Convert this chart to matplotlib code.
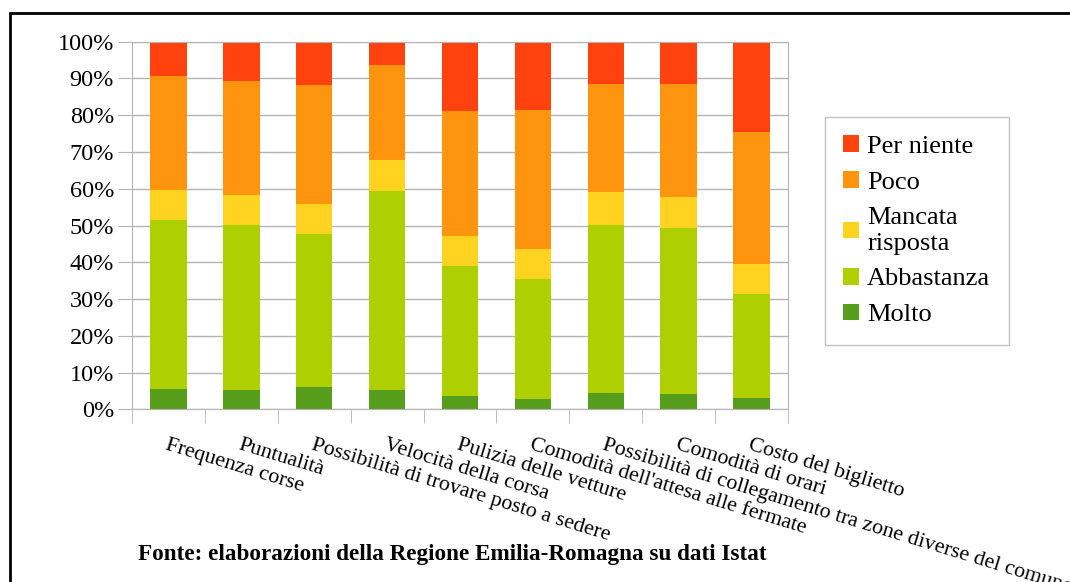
import matplotlib
matplotlib.use('Agg')
import matplotlib.pyplot as plt
from matplotlib.patches import Patch, Rectangle
from matplotlib.ticker import PercentFormatter
import numpy as np

# Dati
categorie = ['Frequenza corse', 'Puntualità', 'Possibilità di trovare posto a sedere',
             'Velocità della corsa', 'Pulizia delle vetture',
             "Comodità dell'attesa alle fermate",
             'Possibilità di collegamento tra zone diverse del comune',
             'Comodità di orari', 'Costo del biglietto']
molto = [5.6, 5.3, 6.1, 5.3, 3.6, 2.8, 4.4, 4.2, 3.1]
abbastanza = [45.9, 44.8, 41.5, 54.1, 35.4, 32.6, 45.7, 45.1, 28.3]
mancata = [8.2, 8.2, 8.2, 8.4, 8.1, 8.2, 9.0, 8.5, 8.1]
poco = [31.0, 31.0, 32.4, 25.9, 34.0, 37.8, 29.5, 30.7, 35.9]
per_niente = [9.3, 10.7, 11.8, 6.3, 18.9, 18.6, 11.4, 11.5, 24.6]

serie = [('Molto', molto, '#579d1c'),
         ('Abbastanza', abbastanza, '#aecf00'),
         ('Mancata\nrisposta', mancata, '#ffd320'),
         ('Poco', poco, '#ff950e'),
         ('Per niente', per_niente, '#ff420e')]

plt.rcParams['font.family'] = ['Liberation Serif', 'DejaVu Serif']

W, H = 1070, 582
fig = plt.figure(figsize=(W / 100, H / 100), dpi=100)
ax = fig.add_axes([132 / W, 1 - 409.3 / H, (788 - 132) / W, (409.3 - 41.7) / H])

x = np.arange(len(categorie))
bottom = np.zeros(len(categorie))
for nome, valori, colore in serie:
    ax.bar(x, valori, 0.5, bottom=bottom, color=colore, zorder=2)
    bottom += np.array(valori)

grigio = '#b3b3b3'
ax.set_xlim(-0.5, len(categorie) - 0.5)
ax.set_ylim(0, 100)
ax.set_yticks(np.arange(0, 101, 10))
ax.yaxis.set_major_formatter(PercentFormatter(decimals=0))
ax.yaxis.grid(True, color=grigio, linewidth=1, zorder=0)
ax.tick_params(axis='y', length=10, color=grigio, labelsize=17.5, pad=3)
for s in ax.spines.values():
    s.set_color(grigio)

# tacche ai confini delle categorie, etichette al centro
ax.set_xticks(np.arange(-0.5, len(categorie), 1.0), minor=True)
ax.tick_params(axis='x', which='minor', length=10, color=grigio)
ax.set_xticks(x)
ax.set_xticklabels(categorie, rotation=-17, rotation_mode='anchor',
                   ha='left', va='top', fontsize=15.8)
ax.tick_params(axis='x', which='major', length=0, pad=19)

# Legenda
handles = [Patch(facecolor=c, edgecolor='none', label=n) for n, _, c in serie[::-1]]
leg = fig.legend(handles=handles, loc='upper left',
                 bbox_to_anchor=(825 / W, 1 - 117 / H), fontsize=19,
                 frameon=True, fancybox=False, edgecolor=grigio,
                 handlelength=0.6, handleheight=0.6, handletextpad=0.3,
                 labelspacing=0.5, borderpad=0.7, borderaxespad=0)
leg.get_frame().set_linewidth(1)

# Fonte
fig.text(138 / W, 1 - 560 / H,
         'Fonte: elaborazioni della Regione Emilia-Romagna su dati Istat',
         fontsize=16.7, weight='bold', ha='left', va='baseline')

# Cornice
fig.add_artist(Rectangle((10 / W, -0.1), 1.2, 1.1 - 13 / H,
                         transform=fig.transFigure, fill=False,
                         edgecolor='black', linewidth=2))

fig.savefig('out.png', dpi=100, facecolor='white')
